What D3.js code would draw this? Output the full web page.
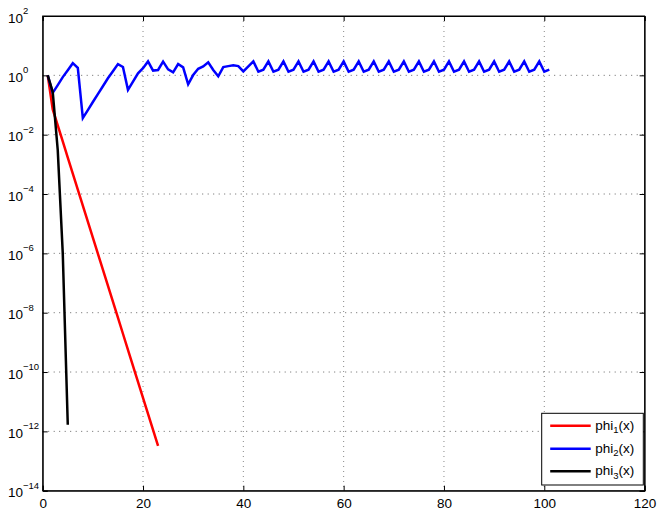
<!DOCTYPE html>
<html>
<head>
<meta charset="utf-8">
<script src="https://cdn.jsdelivr.net/npm/d3@7"></script>
<style>
  body { margin: 0; background: #fff; }
  text { font-family: "Liberation Sans", Arial, Helvetica, sans-serif; fill: #000; }
</style>
</head>
<body>
<svg id="chart" width="658" height="510"></svg>
<script>
// values, x = iteration 1..n
const phi1 = [1, 0.0708, 0.0204, 5.89e-3, 1.70e-3, 4.90e-4, 1.41e-4, 4.07e-5, 1.17e-5,
  3.39e-6, 9.77e-7, 2.82e-7, 8.13e-8, 2.34e-8, 6.76e-9, 1.95e-9, 5.62e-10, 1.62e-10,
  4.68e-11, 1.35e-11, 3.89e-12, 1.12e-12, 3.24e-13]

const phi2 = [1, 0.257, 0.468, 0.871, 1.479, 2.570, 1.778, 0.0363, 0.0676, 0.126,
  0.234, 0.427, 0.794, 1.380, 2.399, 1.905, 0.324, 0.617, 1.175, 1.738,
  2.951, 1.445, 1.514, 2.884, 1.585, 1.259, 2.399, 1.862, 0.501, 1.023,
  1.660, 1.995, 2.754, 1.514, 0.933, 1.905, 2.042, 2.188, 2.042, 1.349,
  1.995,
  2.95, 1.32, 1.55, 2.95, 1.32, 1.55, 2.95, 1.32, 1.55, 2.95, 1.32, 1.55,
  2.95, 1.32, 1.55, 2.95, 1.32, 1.55, 2.95, 1.32, 1.55, 2.95, 1.32, 1.55,
  2.95, 1.32, 1.55, 2.95, 1.32, 1.55, 2.95, 1.32, 1.55, 2.95, 1.32, 1.55,
  2.95, 1.32, 1.55, 2.95, 1.32, 1.55, 2.95, 1.32, 1.55, 2.95, 1.32, 1.55,
  2.95, 1.32, 1.55, 2.95, 1.32, 1.55, 2.95, 1.32, 1.55, 2.95, 1.32, 1.55]

const phi3 = [1, 0.275, 3.0e-3, 1.0e-6, 1.66e-12]

const seriesNames = ['phi', 'phi', 'phi']
const seriesIndex = ['1', '2', '3']
const seriesColors = ['#ff0000', '#0000ff', '#000000']

const xTicks = [0, 20, 40, 60, 80, 100, 120]
const yExponents = [-14, -12, -10, -8, -6, -4, -2, 0, 2]

const margin = { top: 16, right: 13.4, bottom: 19.3, left: 42.7 }
const W = 658, H = 510
const width = W - margin.left - margin.right
const height = H - margin.top - margin.bottom

const svg = d3.select('#chart')
svg.append('rect').attr('width', W).attr('height', H).attr('fill', '#fff')

const g = svg.append('g').attr('transform', `translate(${margin.left},${margin.top})`)

const x = d3.scaleLinear().domain([0, 120]).range([0, width])
const y = d3.scaleLog().domain([1e-14, 1e2]).range([height, 0])

// grid
g.append('g').selectAll('line')
  .data(xTicks.slice(1, -1))
  .enter().append('line')
  .attr('x1', d => x(d)).attr('x2', d => x(d))
  .attr('y1', 0).attr('y2', height)
  .attr('stroke', '#888').attr('stroke-width', 1)
  .attr('stroke-dasharray', '1,4')

g.append('g').selectAll('line')
  .data(yExponents.slice(1, -1))
  .enter().append('line')
  .attr('y1', d => y(Math.pow(10, d))).attr('y2', d => y(Math.pow(10, d)))
  .attr('x1', 0).attr('x2', width)
  .attr('stroke', '#666').attr('stroke-width', 1)
  .attr('stroke-dasharray', '1,4.5')

// data lines
const line = d3.line()
  .x((d, i) => x(i + 1))
  .y(d => y(d))

;[phi1, phi2, phi3].forEach((s, k) => {
  g.append('path')
    .datum(s)
    .attr('d', line)
    .attr('fill', 'none')
    .attr('stroke', seriesColors[k])
    .attr('stroke-width', 2.5)
})

// axes, ticks pointing inward
const yTickVals = yExponents.map(e => Math.pow(10, e))

g.append('g')
  .attr('transform', `translate(0,${height})`)
  .call(d3.axisBottom(x).tickValues(xTicks).tickSize(-5).tickPadding(8))
  .call(a => a.selectAll('text').style('font-size', '13.5px'))

g.append('g')
  .call(d3.axisTop(x).tickValues(xTicks).tickSize(-5).tickFormat(''))

g.append('g')
  .call(d3.axisLeft(y).tickValues(yTickVals).tickSize(-5).tickFormat(''))

g.append('g')
  .attr('transform', `translate(${width},0)`)
  .call(d3.axisRight(y).tickValues(yTickVals).tickSize(-5).tickFormat(''))

svg.selectAll('.domain').attr('stroke', '#000').attr('stroke-width', 1)
svg.selectAll('.tick line').attr('stroke', '#000')

g.append('rect')
  .attr('width', width).attr('height', height)
  .attr('fill', 'none').attr('stroke', '#000').attr('stroke-width', 1)

// y labels: 10 with exponent
const yl = svg.append('g')
yExponents.forEach(e => {
  const yy = margin.top + y(Math.pow(10, e))
  const t = yl.append('text')
    .attr('x', 8)
    .attr('y', yy + 6.5)
    .style('font-size', '13.5px')
  t.append('tspan').text('10')
  t.append('tspan')
    .attr('dy', -8.5)
    .style('font-size', '9.5px')
    .text(e < 0 ? '\u2212' + Math.abs(e) : String(e))
})

// legend
const lg = svg.append('g').attr('transform', 'translate(541.7,413.3)')
lg.append('rect')
  .attr('width', 101.6).attr('height', 71.7)
  .attr('fill', '#fff').attr('stroke', '#000').attr('stroke-width', 1)

const rowY = [12.5, 35.5, 58]
seriesNames.forEach((name, k) => {
  lg.append('line')
    .attr('x1', 8.5).attr('x2', 49)
    .attr('y1', rowY[k]).attr('y2', rowY[k])
    .attr('stroke', seriesColors[k]).attr('stroke-width', 2.5)
  const t = lg.append('text')
    .attr('x', 53.5)
    .attr('y', rowY[k] + 4)
    .style('font-size', '13.5px')
  t.append('tspan').text(name)
  t.append('tspan').attr('dy', 3.5).style('font-size', '9.5px').text(seriesIndex[k])
  t.append('tspan').attr('dy', -3.5).text('(x)')
})
</script>
</body>
</html>
